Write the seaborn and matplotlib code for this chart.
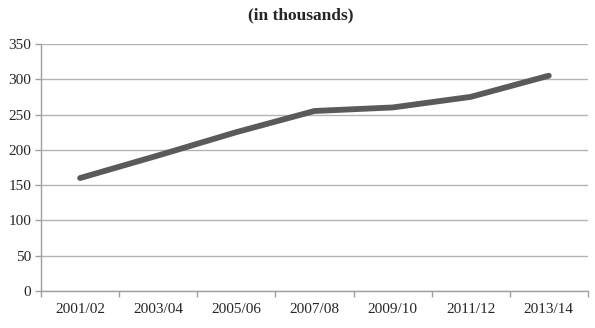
import numpy as np
import pandas as pd
import matplotlib
matplotlib.use("Agg")
import matplotlib.pyplot as plt
import seaborn as sns

YEARS = ["2001/02", "2003/04", "2005/06", "2007/08", "2009/10", "2011/12", "2013/14"]
VALUES = [160, 192, 225, 255, 260, 275, 305]

sns.set_style("white")
plt.rcParams["font.family"] = ["Liberation Serif", "DejaVu Serif"]

df = pd.DataFrame({"year": YEARS, "value": VALUES})

fig = plt.figure(figsize=(5.95, 3.28), dpi=100)
ax = fig.add_axes([0.069, 0.113, 0.919, 0.753])

sns.lineplot(data=df, x="year", y="value", ax=ax, color="#5a5a5a",
             linewidth=4.2, solid_capstyle="round", solid_joinstyle="round")

ax.set_xlim(-0.5, len(YEARS) - 0.5)
ax.set_ylim(0, 350)
ax.set_yticks(np.arange(0, 351, 50))
ax.yaxis.grid(True, color="#b3b3b3", linewidth=1)
ax.set_axisbelow(True)

ax.set_xticks(range(len(YEARS)))
ax.set_xticklabels(YEARS)
ax.set_xticks(np.arange(-0.5, len(YEARS)), minor=True)
ax.tick_params(axis="x", which="major", length=0, pad=9, labelsize=11)
ax.tick_params(axis="x", which="minor", length=4, color="#a0a0a0", width=1,
               direction="out", bottom=True)
ax.tick_params(axis="y", length=4, color="#a0a0a0", width=1, direction="out",
               left=True, pad=3, labelsize=11)

for side in ["top", "right"]:
    ax.spines[side].set_visible(False)
for side in ["left", "bottom"]:
    ax.spines[side].set_color("#a0a0a0")
    ax.spines[side].set_linewidth(1)

ax.set_xlabel("")
ax.set_ylabel("")

fig.text(0.505, 0.952, "(in thousands)", ha="center", va="center",
         fontsize=12.5, fontweight="bold")

fig.savefig("out.png", dpi=100)
